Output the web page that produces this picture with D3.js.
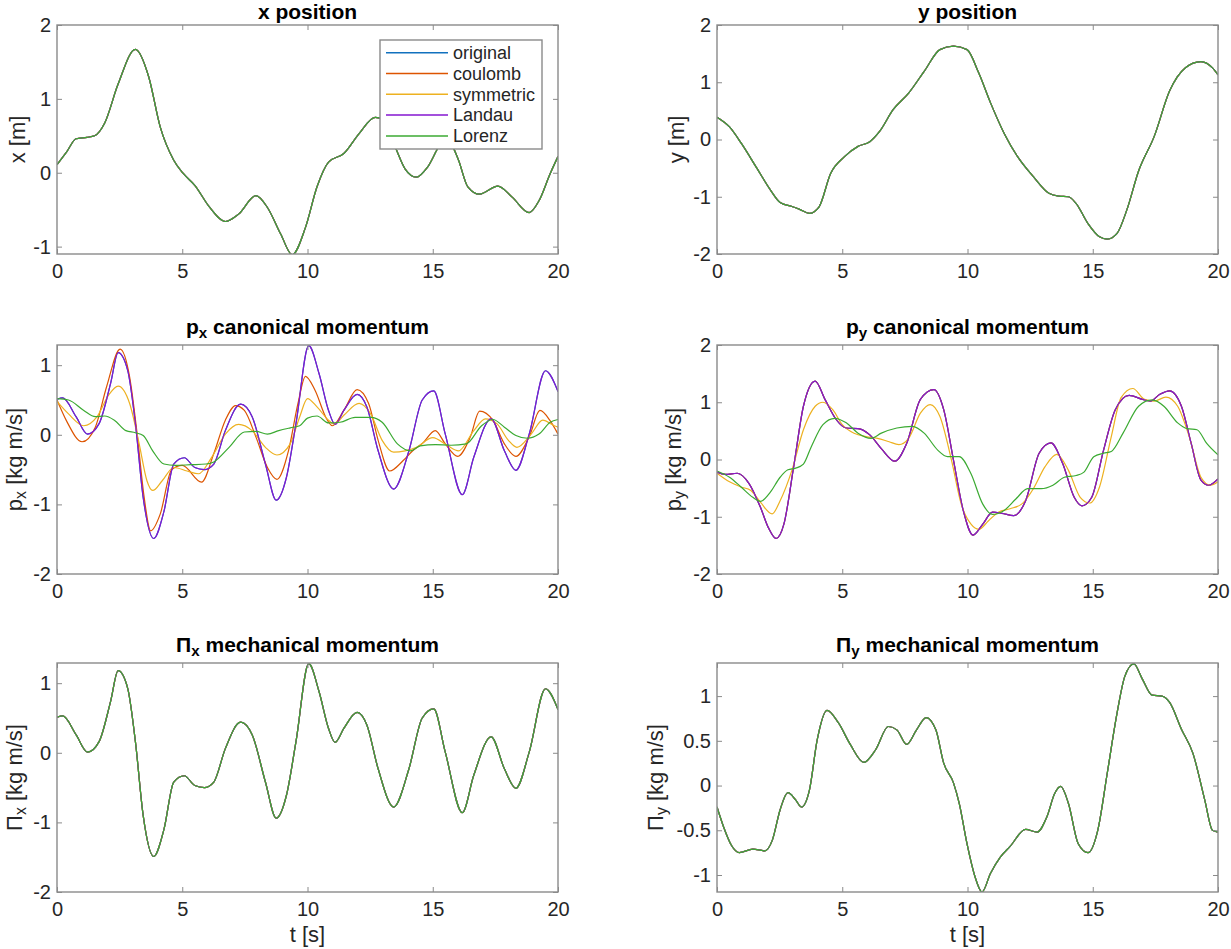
<!DOCTYPE html>
<html>
<head>
<meta charset="utf-8">
<script src="https://cdn.jsdelivr.net/npm/d3@7"></script>
<style>
  body{margin:0;background:#fff;}
  svg{display:block;font-family:"Liberation Sans",Arial,sans-serif;}
</style>
</head>
<body>
<svg id="fig"></svg>
<script>
// ---- data: [t, value] pairs ----
var xTicks=[0,5,10,15,20];
var seriesNames=["original","coulomb","symmetric","Landau","Lorenz"];
var seriesColors=["#1171BE","#DD5400","#EDB120","#8516D1","#3BAA32"];

var xPos=[[0,0.11],[0.4,0.29],[0.76,0.46],[1.2,0.48],[1.5,0.5],[1.9,0.67],[2.44,1.2],[3.13,1.67],[3.66,1.3],[4.12,0.62],[4.66,0.17],[5.04,-0.01],[5.5,-0.17],[6.1,-0.47],[6.72,-0.66],[7.25,-0.56],[7.94,-0.31],[8.4,-0.47],[8.93,-0.83],[9.39,-1.11],[9.92,-0.74],[10.38,-0.19],[10.84,0.145],[11.45,0.26],[12.06,0.53],[12.7,0.75],[13.0,0.72],[13.5,0.35],[13.9,0.05],[14.35,-0.06],[14.8,0.08],[15.3,0.38],[15.55,0.45],[15.8,0.35],[16.03,0.17],[16.4,-0.19],[16.87,-0.29],[17.6,-0.18],[18.17,-0.33],[18.85,-0.54],[19.24,-0.38],[19.69,-0.01],[20,0.22]];

var yPos=[[0,0.39],[0.5,0.22],[0.96,-0.06],[1.59,-0.5],[2.13,-0.88],[2.52,-1.1],[2.99,-1.17],[3.3,-1.22],[3.69,-1.29],[4.07,-1.18],[4.54,-0.59],[5.09,-0.3],[5.63,-0.12],[6.1,-0.04],[6.49,0.14],[7.03,0.52],[7.65,0.81],[8.27,1.19],[8.9,1.57],[9.44,1.63],[9.98,1.57],[10.45,1.16],[10.92,0.64],[11.46,0.11],[12.0,-0.3],[12.63,-0.65],[13.25,-0.94],[13.64,-0.99],[14.03,-1.0],[14.34,-1.12],[14.81,-1.47],[15.27,-1.7],[15.58,-1.74],[15.97,-1.64],[16.36,-1.23],[16.83,-0.55],[17.45,0.05],[18.07,0.85],[18.69,1.25],[19.32,1.36],[19.78,1.25],[20,1.13]];

var pxLandau=[[0,0.51],[0.23,0.53],[0.76,0.26],[1.22,0.01],[1.68,0.16],[2.14,0.74],[2.44,1.18],[2.82,0.93],[3.13,0.16],[3.44,-0.9],[3.86,-1.49],[4.27,-1.1],[4.66,-0.42],[5.08,-0.33],[5.5,-0.47],[5.88,-0.5],[6.26,-0.42],[6.72,0.06],[7.33,0.44],[7.79,0.26],[8.32,-0.42],[8.75,-0.94],[9.16,-0.61],[9.54,0.16],[10.05,1.28],[10.46,0.88],[10.84,0.35],[11.1,0.15],[11.45,0.35],[11.98,0.58],[12.37,0.4],[12.82,-0.23],[13.44,-0.78],[14.05,-0.23],[14.58,0.5],[15.04,0.63],[15.5,0.01],[16.18,-0.86],[16.64,-0.32],[17.33,0.23],[17.86,-0.23],[18.32,-0.51],[18.85,0.01],[19.5,0.92],[20,0.62]];

var pxCoulomb=[[0,0.5],[0.38,0.2],[1.0,-0.1],[1.53,0.11],[1.98,0.69],[2.52,1.23],[2.9,0.83],[3.2,0.01],[3.48,-0.9],[3.74,-1.38],[4.12,-1.14],[4.58,-0.5],[5.0,-0.44],[5.77,-0.68],[6.26,-0.27],[6.72,0.21],[7.13,0.42],[7.48,0.35],[7.94,-0.03],[8.4,-0.47],[8.78,-0.64],[9.24,-0.23],[9.62,0.45],[9.92,0.84],[10.3,0.64],[10.76,0.23],[10.99,0.13],[11.45,0.35],[11.98,0.65],[12.44,0.45],[12.82,-0.08],[13.28,-0.52],[13.82,-0.37],[14.2,-0.23],[14.6,-0.12],[15.1,0.06],[15.5,-0.13],[16.0,-0.31],[16.5,-0.03],[16.87,0.34],[17.4,0.21],[17.86,-0.13],[18.32,-0.31],[18.85,-0.03],[19.28,0.35],[19.69,0.2],[20,0.01]];

var pxSym=[[0,0.48],[0.46,0.3],[1.07,0.13],[1.6,0.26],[2.06,0.57],[2.44,0.7],[2.9,0.45],[3.28,-0.13],[3.59,-0.66],[3.82,-0.8],[4.2,-0.66],[4.66,-0.47],[5.19,-0.52],[5.65,-0.56],[6.18,-0.32],[6.72,0.01],[7.25,0.15],[7.79,0.06],[8.32,-0.18],[8.78,-0.29],[9.31,-0.13],[9.69,0.26],[10.0,0.52],[10.38,0.4],[10.84,0.21],[11.07,0.15],[11.45,0.28],[12.06,0.45],[12.52,0.3],[12.98,-0.08],[13.44,-0.25],[13.9,-0.23],[14.35,-0.18],[15.0,-0.04],[15.57,-0.15],[16.03,-0.23],[16.64,0.06],[17.1,0.23],[17.56,0.16],[18.02,-0.08],[18.36,-0.18],[18.93,0.01],[19.39,0.21],[19.85,0.13],[20,0.11]];

var pxLorenz=[[0,0.52],[0.46,0.5],[1.07,0.35],[1.53,0.26],[1.9,0.27],[2.29,0.21],[2.75,0.06],[3.13,0.03],[3.44,-0.01],[3.82,-0.23],[4.27,-0.42],[4.73,-0.44],[5.34,-0.43],[5.95,-0.42],[6.26,-0.39],[6.87,-0.18],[7.48,0.04],[7.94,0.05],[8.4,0.01],[8.85,0.06],[9.31,0.1],[9.69,0.13],[10.0,0.24],[10.38,0.27],[10.84,0.17],[11.3,0.18],[11.9,0.25],[12.52,0.25],[12.98,0.18],[13.59,-0.13],[14.12,-0.23],[14.5,-0.16],[15.11,-0.14],[15.73,-0.15],[16.34,-0.13],[16.95,0.13],[17.4,0.22],[17.86,0.11],[18.32,-0.01],[18.78,-0.05],[19.24,0.01],[19.69,0.18],[20,0.22]];

var pyLandau=[[0,-0.22],[0.34,-0.26],[0.81,-0.24],[1.28,-0.42],[1.74,-0.84],[2.05,-1.19],[2.36,-1.38],[2.67,-1.13],[3.06,-0.13],[3.45,0.93],[3.92,1.37],[4.31,1.05],[4.77,0.69],[5.16,0.55],[5.63,0.54],[6.1,0.43],[6.56,0.19],[7.1,-0.03],[7.57,0.28],[8.12,1.05],[8.66,1.22],[9.05,0.87],[9.44,-0.01],[9.83,-0.89],[10.22,-1.32],[10.61,-1.13],[11.0,-0.92],[11.38,-0.94],[11.85,-0.98],[12.32,-0.72],[12.86,0.11],[13.33,0.29],[13.8,-0.07],[14.26,-0.66],[14.57,-0.81],[14.96,-0.66],[15.43,0.16],[15.9,0.87],[16.45,1.12],[16.99,1.05],[17.3,1.02],[17.68,1.14],[18.07,1.2],[18.54,0.93],[18.93,0.28],[19.32,-0.36],[19.63,-0.45],[20,-0.34]];

var pySym=[[0,-0.24],[0.5,-0.39],[0.96,-0.48],[1.35,-0.54],[1.74,-0.75],[2.2,-0.95],[2.52,-0.72],[2.99,-0.19],[3.45,0.52],[3.92,0.93],[4.23,1.0],[4.62,0.87],[5.0,0.61],[5.47,0.46],[5.94,0.4],[6.41,0.37],[6.87,0.31],[7.26,0.26],[7.65,0.37],[8.12,0.81],[8.51,0.96],[8.9,0.75],[9.36,-0.01],[9.75,-0.78],[10.14,-1.13],[10.45,-1.22],[10.84,-1.07],[11.23,-0.92],[11.7,-0.86],[12.16,-0.78],[12.63,-0.51],[13.09,-0.13],[13.56,0.09],[14.03,-0.19],[14.5,-0.66],[14.88,-0.76],[15.27,-0.48],[15.74,0.4],[16.13,1.08],[16.6,1.24],[17.07,1.05],[17.45,1.02],[17.92,1.09],[18.39,0.93],[18.85,0.4],[19.32,-0.31],[19.7,-0.45],[20,-0.39]];

var pyLorenz=[[0,-0.2],[0.5,-0.31],[0.96,-0.48],[1.43,-0.66],[1.74,-0.73],[2.13,-0.57],[2.52,-0.31],[2.83,-0.18],[3.14,-0.15],[3.45,-0.08],[3.76,0.22],[4.23,0.61],[4.7,0.72],[5.16,0.64],[5.63,0.46],[6.15,0.37],[6.56,0.46],[7.18,0.55],[7.81,0.58],[8.27,0.46],[8.82,0.16],[9.2,0.05],[9.67,0.05],[10.14,-0.25],[10.61,-0.78],[11.0,-0.96],[11.46,-0.89],[11.93,-0.69],[12.4,-0.51],[12.94,-0.51],[13.41,-0.45],[13.87,-0.31],[14.34,-0.28],[14.65,-0.22],[15.04,0.05],[15.43,0.11],[15.74,0.14],[16.21,0.46],[16.83,0.93],[17.37,1.04],[17.84,0.93],[18.39,0.64],[18.77,0.54],[19.16,0.52],[19.55,0.28],[20,0.08]];

// mechanical momentum is gauge independent: every method gives the same curve
var piX=pxLandau;
var piY=[[0,-0.24],[0.26,-0.46],[0.58,-0.67],[0.89,-0.75],[1.43,-0.71],[1.9,-0.73],[2.21,-0.61],[2.52,-0.27],[2.83,-0.08],[3.14,-0.16],[3.37,-0.24],[3.69,-0.05],[4.0,0.51],[4.39,0.84],[4.85,0.7],[5.32,0.46],[5.86,0.26],[6.33,0.4],[6.84,0.66],[7.19,0.62],[7.57,0.46],[7.96,0.62],[8.35,0.76],[8.74,0.62],[9.05,0.25],[9.44,0.03],[9.67,-0.2],[9.98,-0.65],[10.3,-1.02],[10.58,-1.19],[10.92,-0.98],[11.31,-0.8],[11.7,-0.68],[12.32,-0.49],[12.78,-0.52],[13.17,-0.35],[13.48,-0.09],[13.72,-0.01],[14.03,-0.2],[14.42,-0.65],[14.81,-0.75],[15.2,-0.5],[15.58,0.14],[15.97,0.81],[16.28,1.22],[16.64,1.36],[16.98,1.19],[17.37,1.01],[17.76,1.0],[18.07,0.93],[18.54,0.63],[19.0,0.36],[19.47,-0.16],[19.78,-0.5],[20,-0.52]];

// order: original, coulomb, symmetric, Landau, Lorenz
var xSeries=[xPos,xPos,xPos,xPos,xPos];
var ySeries=[yPos,yPos,yPos,yPos,yPos];
var pxSeries=[pxLandau,pxCoulomb,pxSym,pxLandau,pxLorenz];
var pySeries=[pyLandau,pyLandau,pySym,pyLandau,pyLorenz];
var piXSeries=[piX,piX,piX,piX,piX];
var piYSeries=[piY,piY,piY,piY,piY];

// ---- layout ----
var W=1231,H=949;
var colX=[57,717],axW=501;
var rowY=[25,345,663],axH=229;
var boxColor="#8a8a8a",textColor="#262626";

var panels=[
  {c:0,r:0,title:[["x position"]],ylab:[["x [m]"]],ylim:[-1.1,2],yt:[-1,0,1,2],data:xSeries,labOff:40,tOff:6.5,legend:true},
  {c:1,r:0,title:[["y position"]],ylab:[["y [m]"]],ylim:[-2,2],yt:[-2,-1,0,1,2],data:ySeries,labOff:41,tOff:6.5},
  {c:0,r:1,title:[["p"],["x",1],[" canonical momentum"]],ylab:[["p"],["x",1],[" [kg m/s]"]],ylim:[-2,1.29],yt:[-2,-1,0,1],data:pxSeries,labOff:43,tOff:11},
  {c:1,r:1,title:[["p"],["y",1],[" canonical momentum"]],ylab:[["p"],["y",1],[" [kg m/s]"]],ylim:[-2,2],yt:[-2,-1,0,1,2],data:pySeries,labOff:44,tOff:11},
  {c:0,r:2,title:[["\u03a0"],["x",1],[" mechanical momentum"]],ylab:[["\u03a0"],["x",1],[" [kg m/s]"]],ylim:[-2,1.29],yt:[-2,-1,0,1],data:piXSeries,labOff:43,tOff:11,xlab:"t [s]"},
  {c:1,r:2,title:[["\u03a0"],["y",1],[" mechanical momentum"]],ylab:[["\u03a0"],["y",1],[" [kg m/s]"]],ylim:[-1.19,1.37],yt:[-1,-0.5,0,0.5,1],data:piYSeries,labOff:62,tOff:11,xlab:"t [s]"}
];

var svg=d3.select("#fig").attr("width",W).attr("height",H);
svg.append("rect").attr("width",W).attr("height",H).attr("fill","#fff");

// text with subscripts
function rich(sel,parts){
  var down=false;
  parts.forEach(function(p){
    var ts=sel.append("tspan").text(p[0]);
    if(p[1]){ts.attr("font-size","72%").attr("dy","0.28em");down=true;}
    else if(down){ts.attr("dy","-0.2em");down=false;}
  });
}

panels.forEach(function(p,i){
  var left=colX[p.c],top=rowY[p.r];
  var x=d3.scaleLinear().domain([0,20]).range([0,axW]);
  var y=d3.scaleLinear().domain(p.ylim).range([axH,0]);
  var g=svg.append("g").attr("transform","translate("+left+","+top+")");

  g.append("clipPath").attr("id","clip"+i)
    .append("rect").attr("width",axW).attr("height",axH);

  var line=d3.line()
    .x(function(d){return x(d[0]);})
    .y(function(d){return y(d[1]);})
    .curve(d3.curveMonotoneX);

  g.append("g").attr("clip-path","url(#clip"+i+")")
    .selectAll("path")
    .data(p.data)
    .enter()
    .append("path")
    .attr("d",line)
    .attr("fill","none")
    .attr("stroke",function(d,k){return seriesColors[k];})
    .attr("stroke-width",1.2);

  var fmt=function(d){return String(d);};
  var xb=g.append("g").attr("transform","translate(0,"+axH+")")
    .call(d3.axisBottom(x).tickValues(xTicks).tickFormat(fmt).tickSizeInner(-5).tickSizeOuter(0).tickPadding(10));
  var xt=g.append("g")
    .call(d3.axisTop(x).tickValues(xTicks).tickFormat("").tickSizeInner(-5).tickSizeOuter(0));
  var yl=g.append("g")
    .call(d3.axisLeft(y).tickValues(p.yt).tickFormat(fmt).tickSizeInner(-5).tickSizeOuter(0).tickPadding(6));
  var yr=g.append("g").attr("transform","translate("+axW+",0)")
    .call(d3.axisRight(y).tickValues(p.yt).tickFormat("").tickSizeInner(-5).tickSizeOuter(0));
  [xb,xt,yl,yr].forEach(function(a){
    a.select(".domain").remove();
    a.selectAll("line").attr("stroke",boxColor);
    a.selectAll("text").attr("fill",textColor).attr("font-size",20).attr("font-family","Liberation Sans, Arial, sans-serif");
  });

  g.append("rect").attr("width",axW).attr("height",axH)
    .attr("fill","none").attr("stroke",boxColor).attr("stroke-width",1.4);

  var t=g.append("text")
    .attr("x",axW/2).attr("y",-p.tOff)
    .attr("text-anchor","middle")
    .attr("font-size",21).attr("font-weight","bold").attr("fill","#000");
  rich(t,p.title);

  var yt=g.append("text")
    .attr("transform","translate("+(-p.labOff+7.5)+","+(axH/2)+") rotate(-90)")
    .attr("text-anchor","middle")
    .attr("font-size",22).attr("fill",textColor);
  rich(yt,p.ylab);

  if(p.xlab){
    g.append("text").attr("x",axW/2).attr("y",axH+50)
      .attr("text-anchor","middle").attr("font-size",22).attr("fill",textColor)
      .text(p.xlab);
  }

  if(p.legend){
    var lg=svg.append("g").attr("transform","translate(380,40)");
    lg.append("rect").attr("width",162).attr("height",109)
      .attr("fill","#fff").attr("stroke",boxColor).attr("stroke-width",1.4);
    var it=lg.selectAll("g.item").data(seriesNames).enter().append("g")
      .attr("class","item")
      .attr("transform",function(d,k){return "translate(0,"+(12.7+k*20.8)+")";});
    it.append("line").attr("x1",6).attr("x2",68)
      .attr("stroke",function(d,k){return seriesColors[k];}).attr("stroke-width",1.5);
    it.append("text").attr("x",73).attr("dy","0.35em")
      .attr("font-size",18).attr("fill",textColor)
      .text(function(d){return d;});
  }
});
</script>
</body>
</html>
